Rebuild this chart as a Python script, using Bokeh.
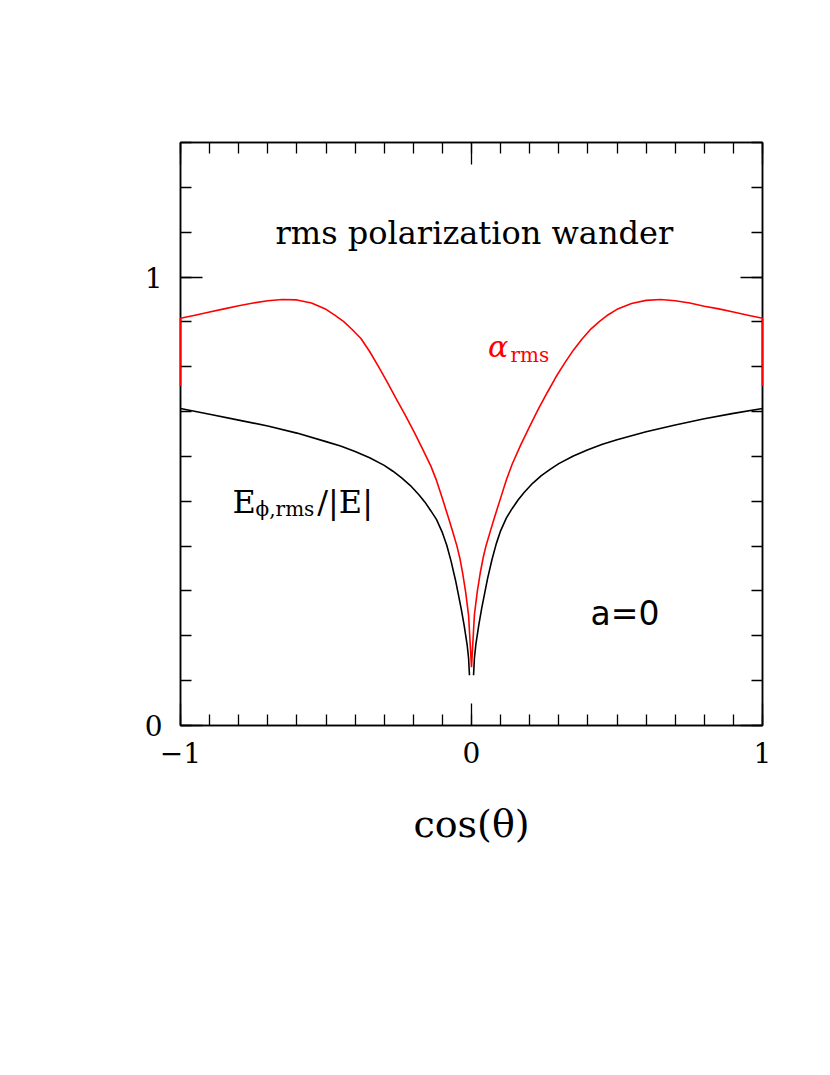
from bokeh.plotting import figure
from bokeh.models import Range1d, FixedTicker, LinearAxis, Label
from bokeh.embed import file_html
from bokeh.resources import INLINE

# ---- data ----
red_x = [-1.0, -1.0, -0.95, -0.9, -0.85, -0.8, -0.75, -0.7, -0.65, -0.6, -0.55, -0.5, -0.47,
         -0.44, -0.41, -0.38, -0.35, -0.32, -0.29, -0.26, -0.23, -0.2, -0.17, -0.14, -0.12,
         -0.1, -0.08, -0.065, -0.05, -0.04, -0.03, -0.02, -0.01,
         0.0,
         0.01, 0.02, 0.03, 0.04, 0.05, 0.065, 0.08, 0.1, 0.12, 0.14, 0.17, 0.2, 0.23, 0.26,
         0.29, 0.32, 0.35, 0.38, 0.41, 0.44, 0.47, 0.5, 0.55, 0.6, 0.65, 0.7, 0.75, 0.8,
         0.85, 0.9, 0.95, 1.0, 1.0]
red_y = [0.757, 0.908, 0.915, 0.922, 0.929, 0.936, 0.942, 0.947, 0.950, 0.949, 0.942, 0.928, 0.915,
         0.901, 0.883, 0.863, 0.834, 0.801, 0.766, 0.730, 0.695, 0.658, 0.619, 0.579, 0.546,
         0.506, 0.465, 0.433, 0.400, 0.373, 0.338, 0.297, 0.245,
         0.130,
         0.247, 0.299, 0.340, 0.374, 0.401, 0.434, 0.466, 0.507, 0.548, 0.583, 0.627, 0.667, 0.706, 0.742,
         0.777, 0.808, 0.837, 0.862, 0.884, 0.901, 0.916, 0.928, 0.941, 0.948, 0.950, 0.947, 0.942, 0.935,
         0.929, 0.922, 0.915, 0.908, 0.757]

nan = float("nan")
black_x = [-1.0, -0.9, -0.8, -0.7, -0.6, -0.5, -0.45, -0.4, -0.35, -0.3, -0.27, -0.24, -0.21,
           -0.18, -0.16, -0.14, -0.12, -0.1, -0.085, -0.07, -0.055, -0.045, -0.035, -0.025,
           -0.015, -0.01, -0.007,
           0.0,
           0.007, 0.01, 0.015, 0.025, 0.035, 0.045, 0.055, 0.07, 0.085, 0.1, 0.12, 0.14, 0.16,
           0.18, 0.21, 0.24, 0.27, 0.3, 0.35, 0.4, 0.45, 0.5, 0.6, 0.7, 0.8, 0.9, 1.0]
black_y = [0.707, 0.694, 0.681, 0.668, 0.652, 0.633, 0.623, 0.611, 0.597, 0.580, 0.567, 0.552, 0.535,
           0.514, 0.498, 0.479, 0.459, 0.430, 0.402, 0.366, 0.324, 0.292, 0.259, 0.222,
           0.180, 0.150, 0.112,
           nan,
           0.112, 0.150, 0.181, 0.224, 0.261, 0.294, 0.327, 0.369, 0.405, 0.434, 0.463, 0.484, 0.503,
           0.519, 0.540, 0.557, 0.571, 0.584, 0.601, 0.615, 0.627, 0.637, 0.655, 0.670, 0.684, 0.696, 0.707]

x_major = [-1, 0, 1]
x_minor = [round(-1 + 0.1 * i, 1) for i in range(21)]
y_major = [0, 1]
y_minor = [round(0.1 * i, 1) for i in range(14)]
x_tick_labels = {-1: "\u22121", 0: "0", 1: "1"}
y_tick_labels = {0: "0", 1: "1"}

SERIF = "DejaVu Serif"
SANS = "DejaVu Sans"

p = figure(width=822, height=1058, x_range=Range1d(-1, 1), y_range=Range1d(0, 1.3),
           output_backend="svg", toolbar_location=None,
           min_border_left=180, min_border_right=60, min_border_top=142, min_border_bottom=333,
           x_axis_location=None, y_axis_location=None)
p.xgrid.visible = False
p.ygrid.visible = False
p.outline_line_color = "black"
p.outline_line_width = 1.5
p.background_fill_color = "white"
p.border_fill_color = "white"


def style_axis(ax, major, minor, labels):
    ax.ticker = FixedTicker(ticks=major, minor_ticks=minor)
    ax.axis_line_color = "black"
    ax.axis_line_width = 1.5
    ax.major_tick_in = 22
    ax.major_tick_out = 0
    ax.minor_tick_in = 11
    ax.minor_tick_out = 0
    ax.major_tick_line_width = 1.3
    ax.minor_tick_line_width = 1.3
    ax.major_tick_line_color = "black"
    ax.minor_tick_line_color = "black"
    ax.major_label_overrides = labels
    ax.major_label_text_font = SERIF
    ax.major_label_text_font_size = "28px"
    ax.major_label_text_color = "black"


xb = LinearAxis()
style_axis(xb, x_major, x_minor, x_tick_labels)
xb.major_label_standoff = 16
xb.axis_label = "cos(\u03b8)"
xb.axis_label_text_font = SERIF
xb.axis_label_text_font_size = "38px"
xb.axis_label_text_font_style = "normal"
xb.axis_label_text_color = "black"
xb.axis_label_standoff = 36
p.add_layout(xb, "below")

yl = LinearAxis()
style_axis(yl, y_major, y_minor, y_tick_labels)
yl.major_label_standoff = 18
p.add_layout(yl, "left")

xt = LinearAxis()
style_axis(xt, x_major, x_minor, {t: "" for t in x_major})
p.add_layout(xt, "above")

yr = LinearAxis()
style_axis(yr, y_major, y_minor, {t: "" for t in y_major})
p.add_layout(yr, "right")

p.line(black_x, black_y, line_color="black", line_width=1.6)
red_r = p.line(red_x, red_y, line_color="#ff0000", line_width=1.6)
red_r.level = "overlay"

labels = [
    Label(x=0.010, y=1.098, text="rms polarization wander", text_align="center",
          text_baseline="alphabetic", text_font=SERIF, text_font_size="32px", text_color="black"),
    Label(x=0.057, y=0.846, text="\u03b1", text_align="left", text_baseline="alphabetic",
          text_font=SERIF, text_font_style="italic", text_font_size="30px", text_color="#ff0000"),
    Label(x=0.134, y=0.826, text="rms", text_align="left", text_baseline="alphabetic",
          text_font=SERIF, text_font_size="20px", text_color="#ff0000"),
    Label(x=-0.821, y=0.498, text="E", text_align="left", text_baseline="alphabetic",
          text_font=SERIF, text_font_size="32px", text_color="black"),
    Label(x=-0.742, y=0.482, text="\u03d5,rms", text_align="left", text_baseline="alphabetic",
          text_font=SERIF, text_font_size="20px", text_color="black"),
    Label(x=-0.530, y=0.498, text="/|E|", text_align="left", text_baseline="alphabetic",
          text_font=SERIF, text_font_size="32px", text_color="black"),
    Label(x=0.409, y=0.250, text="a=0", text_align="left", text_baseline="alphabetic",
          text_font=SANS, text_font_size="33px", text_color="black"),
]
for lb in labels:
    p.add_layout(lb)

open("out.html", "w").write(file_html(p, INLINE))
